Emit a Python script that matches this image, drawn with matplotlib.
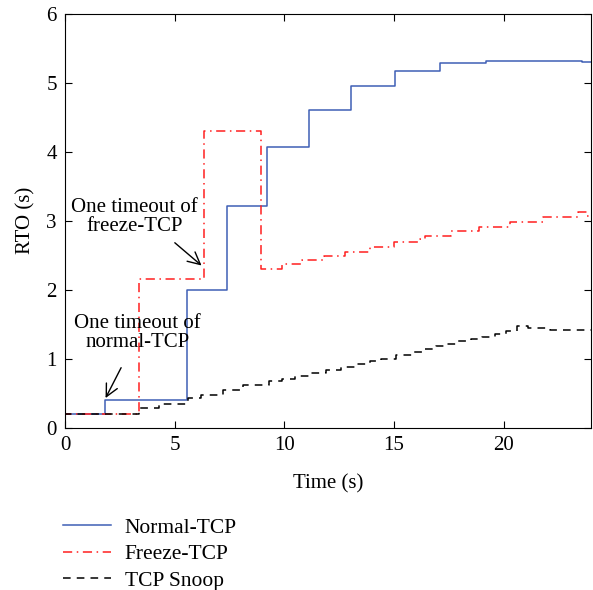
import matplotlib
matplotlib.use("Agg")
import matplotlib.pyplot as plt

plt.rcParams['font.family'] = ['Liberation Serif', 'DejaVu Serif']

# Normal-TCP steps (start time, RTO)
normal_t = [0, 0, 1.8, 5.55, 7.4, 9.2, 11.1, 13.02, 15.05, 17.1, 19.2, 23.6, 24]
normal_v = [6.0, 0.2, 0.4, 2.0, 3.21, 4.06, 4.61, 4.95, 5.17, 5.28, 5.32, 5.30, 5.30]

# Freeze-TCP steps
freeze_t = [0, 0, 3.35, 6.35, 8.95, 9.9, 10.8, 11.8, 12.75, 13.9, 15.0, 16.2, 16.4,
            17.6, 18.9, 20.3, 21.8, 23.4, 23.8, 24]
freeze_v = [6.0, 0.2, 2.15, 4.30, 2.30, 2.37, 2.43, 2.49, 2.55, 2.62, 2.69, 2.74, 2.78,
            2.85, 2.91, 2.98, 3.05, 3.13, 3.07, 3.07]

# TCP Snoop steps
snoop_t = [0, 0, 3.35, 4.3, 5.6, 6.2, 7.2, 8.1, 9.3, 9.9, 10.5, 11.2, 11.9, 12.6, 13.3,
           13.9, 14.4, 15.1, 15.8, 16.4, 16.9, 17.4, 17.9, 18.5, 19.0, 19.6, 20.1, 20.6,
           21.1, 21.6, 22.1, 24]
snoop_v = [6.0, 0.2, 0.29, 0.35, 0.43, 0.47, 0.55, 0.62, 0.67, 0.70, 0.75, 0.80, 0.84,
           0.88, 0.92, 0.96, 1.00, 1.05, 1.10, 1.14, 1.18, 1.22, 1.25, 1.28, 1.32, 1.36,
           1.40, 1.48, 1.45, 1.44, 1.42, 1.42]

fig = plt.figure(figsize=(5.93, 5.90), dpi=100)
ax = fig.add_axes([0.110, 0.275, 0.887, 0.702])

ax.step(normal_t, normal_v, where='post', color='#3f5fb5', lw=1.1, label='Normal-TCP')
ax.step(freeze_t, freeze_v, where='post', color='#ff1f1f', lw=1.1, ls='-.',
        dashes=(6, 3, 1, 3), label='Freeze-TCP')
ax.step(snoop_t, snoop_v, where='post', color='black', lw=1.1, ls='--',
        dashes=(5, 4), label='TCP Snoop')

ax.set_xlim(0, 24)
ax.set_ylim(0, 6)
ax.set_xticks([0, 5, 10, 15, 20])
ax.set_yticks([0, 1, 2, 3, 4, 5, 6])
ax.tick_params(direction='in', top=True, right=True, length=5, labelsize=15)
ax.tick_params(axis='x', pad=6)
ax.tick_params(axis='y', pad=6)
ax.set_xlabel('Time (s)', fontsize=15, labelpad=14)
ax.set_ylabel('RTO (s)', fontsize=15, labelpad=8)

# annotations
ax.text(3.16, 3.05, 'One timeout of\nfreeze-TCP', ha='center', va='center',
        fontsize=15, linespacing=1.0)
ax.annotate('', xy=(6.22, 2.35), xytext=(5.0, 2.68),
            arrowprops=dict(arrowstyle='->', color='black', lw=1,
                            shrinkA=0, shrinkB=0, mutation_scale=22))
ax.text(3.3, 1.37, 'One timeout of\nnormal-TCP', ha='center', va='center',
        fontsize=15, linespacing=1.0)
ax.annotate('', xy=(1.84, 0.43), xytext=(2.55, 0.87),
            arrowprops=dict(arrowstyle='->', color='black', lw=1,
                            shrinkA=0, shrinkB=0, mutation_scale=22))

fig.legend(loc='upper left', bbox_to_anchor=(0.092, 0.137), frameon=False,
           fontsize=15.5, handlelength=2.2, handletextpad=0.65, labelspacing=0.3,
           borderaxespad=0)

fig.savefig('out.png', dpi=100)
